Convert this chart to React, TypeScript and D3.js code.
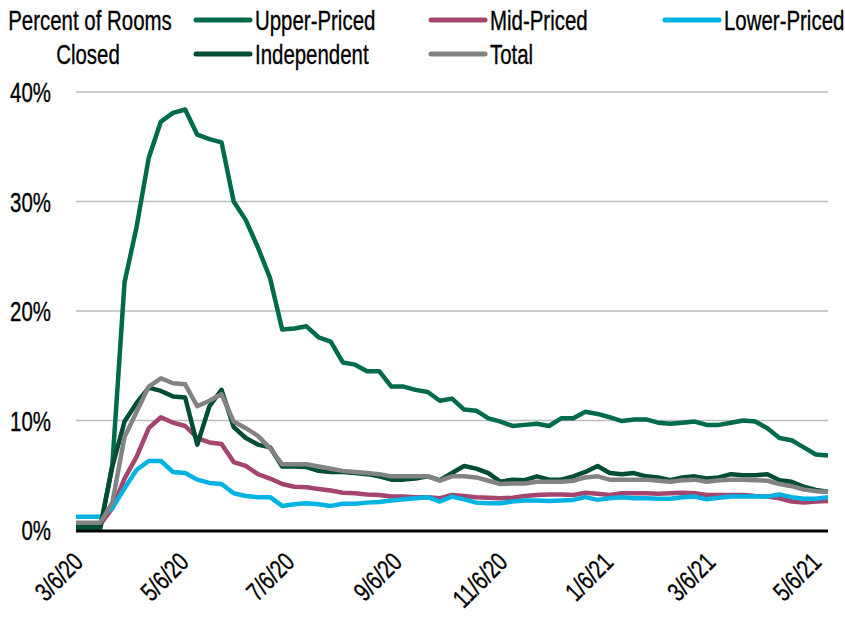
import React from 'react';
import * as d3 from 'd3';

const W = 845;
const H = 617;

// weekly observations, first week of 3/6/20
const START = '2020-03-06';
const WEEKS = 63;

const upperPriced = [
  0.1, 0.1, 0.1, 6.0, 22.6, 27.7, 34.0, 37.3, 38.1, 38.4,
  36.1, 35.7, 35.4, 30.0, 28.3, 25.8, 23.0, 18.3, 18.4, 18.6,
  17.6, 17.2, 15.3, 15.1, 14.5, 14.5, 13.1, 13.1, 12.8, 12.6,
  11.8, 12.0, 11.0, 10.9, 10.2, 9.9, 9.5, 9.6, 9.7, 9.5,
  10.2, 10.2, 10.8, 10.6, 10.3, 9.95, 10.1, 10.1, 9.8, 9.7,
  9.8, 9.9, 9.6, 9.6, 9.8, 10.0, 9.9, 9.3, 8.4, 8.2,
  7.55, 6.9, 6.8,
];
const midPriced = [
  0.5, 0.5, 0.5, 2.0, 4.7, 6.7, 9.3, 10.3, 9.8, 9.5,
  8.4, 8.0, 7.85, 6.2, 5.85, 5.1, 4.7, 4.2, 3.95, 3.9,
  3.75, 3.6, 3.4, 3.35, 3.25, 3.2, 3.05, 3.05, 3.0, 3.0,
  2.9, 3.2, 3.1, 3.0, 2.95, 2.9, 2.95, 3.1, 3.2, 3.25,
  3.25, 3.2, 3.4, 3.3, 3.2, 3.35, 3.35, 3.35, 3.3, 3.35,
  3.4, 3.35, 3.2, 3.2, 3.2, 3.2, 3.1, 3.05, 2.9, 2.6,
  2.5, 2.6, 2.65,
];
const lowerPriced = [
  1.2, 1.2, 1.2, 2.0, 3.8, 5.5, 6.3, 6.3, 5.3, 5.2,
  4.6, 4.3, 4.2, 3.35, 3.1, 3.0, 3.0, 2.2, 2.35, 2.45,
  2.35, 2.2, 2.4, 2.4, 2.5, 2.55, 2.7, 2.8, 2.9, 3.0,
  2.6, 3.05, 2.8, 2.5, 2.45, 2.45, 2.6, 2.7, 2.7, 2.65,
  2.7, 2.75, 3.0, 2.75, 2.9, 3.0, 2.9, 2.9, 2.85, 2.85,
  3.0, 3.05, 2.8, 2.95, 3.05, 3.05, 3.05, 3.05, 3.25, 3.0,
  2.85, 2.85, 3.0,
];
const independent = [
  0.3, 0.3, 0.3, 5.8, 9.9, 11.6, 13.0, 12.7, 12.2, 12.1,
  7.8, 11.3, 12.8, 9.4, 8.4, 7.8, 7.55, 5.8, 5.8, 5.75,
  5.4, 5.3, 5.3, 5.2, 5.1, 4.9, 4.6, 4.6, 4.7, 4.9,
  4.55, 5.2, 5.85, 5.6, 5.2, 4.4, 4.6, 4.55, 4.9, 4.6,
  4.6, 4.9, 5.3, 5.85, 5.2, 5.1, 5.2, 4.9, 4.8, 4.55,
  4.8, 4.9, 4.7, 4.8, 5.1, 5.0, 5.0, 5.1, 4.55, 4.4,
  3.95, 3.65, 3.5,
];
const total = [
  0.67, 0.67, 0.67, 2.5, 8.5, 10.8, 13.1, 13.85, 13.4, 13.3,
  11.3, 11.8, 12.4, 9.9, 9.3, 8.6, 7.45, 6.0, 6.0, 6.0,
  5.8, 5.6, 5.4, 5.3, 5.2, 5.1, 4.9, 4.9, 4.9, 4.9,
  4.5, 4.9, 4.9, 4.8, 4.5, 4.2, 4.25, 4.25, 4.4, 4.4,
  4.4, 4.5, 4.8, 4.9, 4.6, 4.6, 4.6, 4.6, 4.5, 4.4,
  4.55, 4.6, 4.4, 4.55, 4.6, 4.6, 4.55, 4.5, 4.2, 4.0,
  3.7, 3.55, 3.5,
];

const yTicks = [0, 10, 20, 30, 40];
const xTickLabels = ['3/6/20', '5/6/20', '7/6/20', '9/6/20', '11/6/20', '1/6/21', '3/6/21', '5/6/21'];

const series = [
  { name: 'Upper-Priced', values: upperPriced, color: '#006b4c' },
  { name: 'Mid-Priced', values: midPriced, color: '#a3456f' },
  { name: 'Lower-Priced', values: lowerPriced, color: '#00b3e3' },
  { name: 'Independent', values: independent, color: '#004d35' },
  { name: 'Total', values: total, color: '#838383' },
];

// legend slots: [x of swatch, row]
const legendPos = [
  [196, 0],
  [431, 0],
  [665, 0],
  [196, 1],
  [431, 1],
];

// no condensed face installed, so squeeze a regular one horizontally
const FONT = '"Liberation Sans", Arial, sans-serif';

const parse = d3.timeParse('%Y-%m-%d');
const parseTick = d3.timeParse('%m/%d/%y');

function Label({ x, y, size = 28, anchor = 'start', rotate = 0, sq = 0.73, children }: any) {
  return (
    <text
      transform={`translate(${x},${y}) rotate(${rotate}) scale(${sq},1)`}
      textAnchor={anchor}
      dy="0.36em"
      fontSize={size}
      fill="#000"
      stroke="#000"
      strokeWidth={0.35}
    >
      {children}
    </text>
  );
}

export default function App() {
  const start = parse(START) as Date;
  const dates = d3.range(WEEKS).map((i) => d3.timeDay.offset(start, i * 7));

  const x = d3.scaleTime().domain([dates[0], dates[dates.length - 1]]).range([76, 828]);
  const y = d3.scaleLinear().domain([0, 40]).range([530, 92]);

  const line = d3
    .line<number>()
    .x((_, i) => x(dates[i]))
    .y((d) => y(d));

  return (
    <svg width={W} height={H} style={{ display: 'block', position: 'absolute', left: 0, top: 0 }} fontFamily={FONT}>
      <rect width={W} height={H} fill="#fff" />

      {/* gridlines */}
      {yTicks.filter((t) => t > 0).map((t) => (
        <line key={t} x1={76} x2={828} y1={y(t)} y2={y(t)} stroke="#bdbdbd" strokeWidth={1.6} />
      ))}

      {/* y labels */}
      {yTicks.map((t) => (
        <Label key={t} x={51} y={y(t)} anchor="end">{t}%</Label>
      ))}

      {/* lines */}
      {series.map((s) => (
        <path
          key={s.name}
          d={line(s.values) || ''}
          fill="none"
          stroke={s.color}
          strokeWidth={4.5}
          strokeLinejoin="round"
        />
      ))}

      {/* x axis */}
      <line x1={76} x2={828} y1={531} y2={531} stroke="#000" strokeWidth={3} />
      {xTickLabels.map((lbl) => {
        const tx = x(parseTick(lbl) as Date);
        return (
          <Label key={lbl} x={tx + 2} y={557} size={26} sq={0.76} anchor="end" rotate={-45}>
            {lbl}
          </Label>
        );
      })}

      {/* legend */}
      <Label x={90} y={20} anchor="middle">Percent of Rooms</Label>
      <Label x={88} y={54} anchor="middle">Closed</Label>
      {series.map((s, i) => {
        const [lx, row] = legendPos[i];
        const ly = 20 + row * 34;
        return (
          <g key={s.name}>
            <line x1={lx} x2={lx + 54} y1={ly} y2={ly} stroke={s.color} strokeWidth={5} strokeLinecap="round" />
            <Label x={lx + 59} y={ly}>{s.name}</Label>
          </g>
        );
      })}
    </svg>
  );
}
